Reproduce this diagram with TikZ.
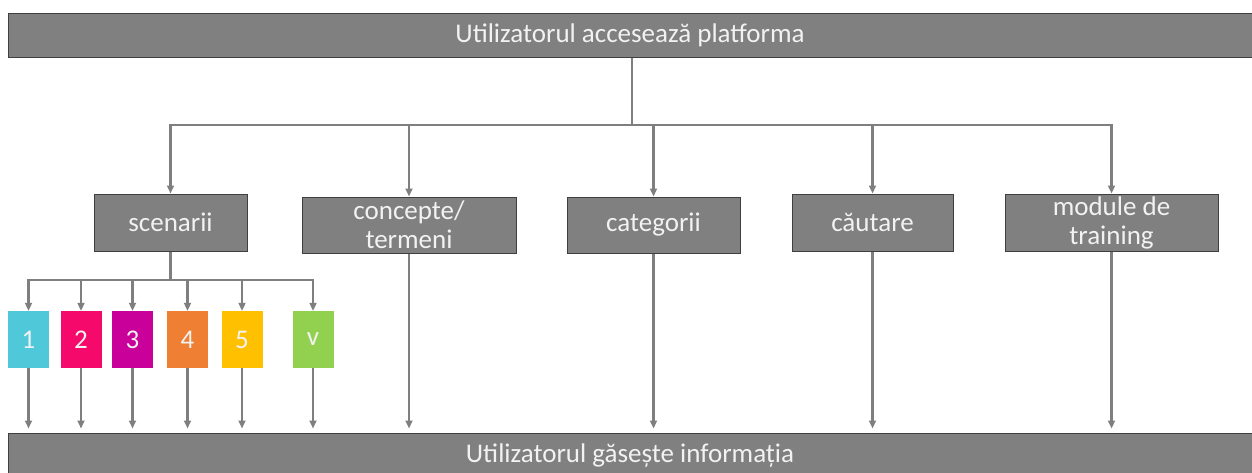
\documentclass[tikz,border=0pt]{standalone}
\usepackage{fontspec}
\setmainfont{Carlito}
\usetikzlibrary{arrows.meta}
\definecolor{boxgray}{HTML}{808080}
\definecolor{boxline}{HTML}{3F3F3F}
\definecolor{linegray}{HTML}{7F7F7F}
\definecolor{txtwhite}{HTML}{F2F2F2}
\definecolor{scA}{HTML}{4FC9DA}
\definecolor{scB}{HTML}{F5096B}
\definecolor{scC}{HTML}{C9009A}
\definecolor{scD}{HTML}{EE7F33}
\definecolor{scE}{HTML}{FFC000}
\definecolor{scF}{HTML}{92D050}
\tikzstyle{graybox}=[draw=boxline,line width=1pt,fill=boxgray,text=txtwhite,inner sep=0pt,align=center,font=\fontsize{27}{29}\selectfont]
\tikzstyle{scenbox}=[inner sep=0pt,minimum width=41pt,minimum height=57pt,text=txtwhite,font=\fontsize{27}{29}\selectfont]
\tikzstyle{link}=[draw=linegray,line width=2.2pt]
\tikzstyle{arrow}=[link,-{Triangle[length=8pt,width=7pt]}]

\begin{document}
\begin{tikzpicture}[x=1pt,y=-1pt]
	\useasboundingbox (0,0) rectangle (1252,472);
	\node[graybox,minimum width=1244pt,minimum height=44pt] (start) at (630,35) {Utilizatorul accesează platforma};
	\node[graybox,minimum width=1244pt,minimum height=46pt] (found) at (630,456) {Utilizatorul găsește informația};

	\node[graybox,minimum width=153pt,minimum height=57pt] (scen) at (170.5,222.5) {scenarii};
	\node[graybox,minimum width=214pt,minimum height=56pt] (conc) at (409,225) {concepte/\\termeni};
	\node[graybox,minimum width=173pt,minimum height=56pt] (cat) at (653.5,225) {categorii};
	\node[graybox,minimum width=161pt,minimum height=57pt] (caut) at (872.5,222.5) {căutare};
	\node[graybox,minimum width=213pt,minimum height=57pt] (mod) at (1111.5,222.5) {module de\\training};

	\coordinate (hub) at (632,125);
	\coordinate (split) at (170.5,280);
	\draw[link] (hub |- start.south) -- (hub);
	\foreach \c in {scen,conc,cat,caut,mod}
		\draw[arrow] (hub) -| (\c.north);
	\draw[link] (scen.south) -- (split);

	\foreach \i/\x/\col/\lbl in {1/28.5/scA/1,2/81/scB/2,3/132.5/scC/3,4/187.5/scD/4,5/242/scE/5,6/313/scF/v} {
		\node[scenbox,fill=\col] (sc\i) at (\x,339.5) {\lbl};
		\draw[arrow] (split) -| (sc\i.north);
		\draw[arrow,shorten >=4pt] (sc\i.south) -- (sc\i.south |- found.north);
	}
	\foreach \c in {conc,cat,caut,mod}
		\draw[arrow,shorten >=4pt] (\c.south) -- (\c.south |- found.north);
\end{tikzpicture}
\end{document}
